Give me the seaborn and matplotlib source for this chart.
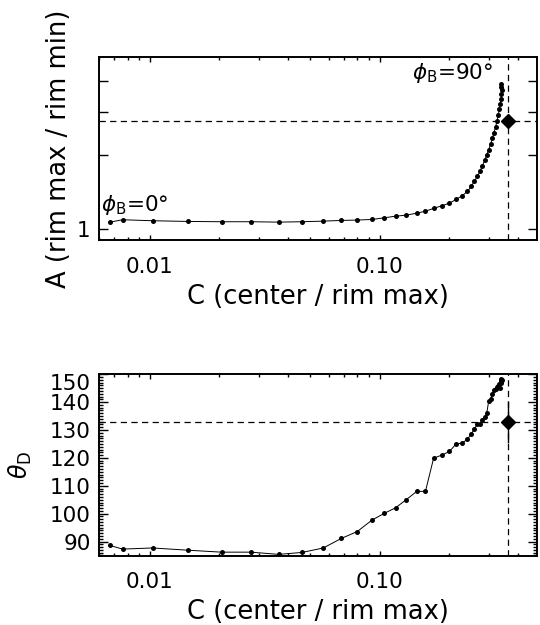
import numpy as np
import pandas as pd
import seaborn as sns
import matplotlib
matplotlib.use("Agg")
from matplotlib import pyplot as plt
from matplotlib import ticker

# dane (model: C, A, theta_D dla phi_B = 0..90)
contrast = [0.0067, 0.0076, 0.01027, 0.01463, 0.0205, 0.02756, 0.0364, 0.0460, 0.0569, 0.0681,
            0.0800, 0.0927, 0.1048, 0.1174, 0.1306, 0.1453, 0.1585, 0.172, 0.1866, 0.2015,
            0.2155, 0.229, 0.2415, 0.2505, 0.259, 0.267, 0.274, 0.2805, 0.287, 0.293,
            0.299, 0.305, 0.310, 0.3153, 0.3206, 0.325, 0.329, 0.3325, 0.336, 0.338,
            0.3395, 0.3405, 0.3395, 0.337]
asym = [1.064, 1.088, 1.078, 1.071, 1.068, 1.068, 1.064, 1.068, 1.074, 1.081,
        1.085, 1.091, 1.108, 1.125, 1.136, 1.157, 1.179, 1.21, 1.24, 1.271,
        1.316, 1.362, 1.418, 1.486, 1.562, 1.636, 1.715, 1.804, 1.897, 2.0,
        2.10, 2.217, 2.336, 2.464, 2.606, 2.752, 2.90, 3.06, 3.225, 3.38,
        3.54, 3.68, 3.79, 3.87]
theta = [88.6, 87.3, 87.7, 86.9, 86.2, 86.2, 85.4, 86.1, 87.7, 91.1,
         93.6, 97.7, 100.1, 102.1, 105.0, 108.0, 108.0, 119.9, 121.0, 122.3,
         125.0, 125.3, 126.7, 128.5, 130.4, 132.3, 132.3, 133.5, 134.8, 136.0,
         140.5, 141.2, 142.8, 144.3, 144.7, 145.5, 145.9, 146.5, 145.0, 147.0,
         147.6, 148.0, 148.2, 147.8]

# obserwacja
obs_c = 0.364
obs_a = 2.75
obs_theta = 133.0
obs_theta_err = 7.5

model = pd.DataFrame({'C': contrast, 'A': asym, 'theta': theta})

sns.set_style('ticks')
plt.rcParams['font.family'] = ['DejaVu Sans']
plt.rcParams['mathtext.fontset'] = 'dejavusans'
plt.rcParams['text.color'] = 'black'
plt.rcParams['axes.labelcolor'] = 'black'

fig = plt.figure(figsize=(5.4, 6.25), dpi=100)
ax1 = fig.add_axes([0.1833, 0.616, 0.8111, 0.2928])
ax2 = fig.add_axes([0.1833, 0.1112, 0.8111, 0.2900])

fs = 15.5
lab_fs = 18.5
dash = (0, (5, 3.5))

for ax in (ax1, ax2):
    ax.set_xscale('log')
    ax.set_xlim(0.006, 0.485)
    ax.xaxis.set_major_locator(ticker.FixedLocator([0.01, 0.1]))
    ax.xaxis.set_major_formatter(ticker.FixedFormatter(['0.01', '0.10']))
    ax.xaxis.set_minor_locator(ticker.LogLocator(base=10, subs=np.arange(2, 10), numticks=20))
    ax.xaxis.set_minor_formatter(ticker.NullFormatter())
    ax.tick_params(which='both', direction='in', top=True, right=True, width=1.0,
                   colors='black', labelcolor='black', labelsize=fs)
    ax.tick_params(axis='x', which='major', length=3.5, pad=12)
    ax.tick_params(axis='x', which='minor', length=2.0)
    ax.tick_params(axis='y', which='major', length=6.3, pad=6)
    ax.tick_params(axis='y', which='minor', length=3.2)
    for s in ax.spines.values():
        s.set_linewidth(1.4)
        s.set_color('black')
    ax.set_xlabel('C (center / rim max)', fontsize=lab_fs)
    ax.xaxis.set_label_coords(0.5, -0.24)

# --- panel 1: A vs C
sns.lineplot(data=model, x='C', y='A', sort=False, estimator=None, ax=ax1,
             color='black', linewidth=0.7, marker='o', markersize=3.6, markeredgewidth=0)
ax1.set_yscale('log')
ax1.set_ylim(0.9, 5.0)
ax1.yaxis.set_major_locator(ticker.FixedLocator([1, 2, 3, 4]))
ax1.yaxis.set_major_formatter(ticker.FixedFormatter(['1', '', '', '']))
ax1.yaxis.set_minor_locator(ticker.NullLocator())
ax1.axhline(obs_a, color='black', linestyle=dash, linewidth=0.9)
ax1.axvline(obs_c, color='black', linestyle=dash, linewidth=0.9)
ax1.plot([obs_c], [obs_a], marker='D', markersize=7, color='black')
ax1.set_ylabel('A (rim max / rim min)', fontsize=lab_fs)
ax1.yaxis.set_label_coords(-0.062, 0.5)
ax1.text(0.0061, 1.18, r'$\phi_{\rm B}$=0°', fontsize=fs, ha='left', va='baseline')
ax1.text(0.311, 4.08, r'$\phi_{\rm B}$=90°', fontsize=fs, ha='right', va='baseline')

# --- panel 2: theta_D vs C
sns.lineplot(data=model, x='C', y='theta', sort=False, estimator=None, ax=ax2,
             color='black', linewidth=0.7, marker='o', markersize=3.6, markeredgewidth=0)
ax2.set_ylim(85, 150)
ax2.yaxis.set_major_locator(ticker.MultipleLocator(10))
ax2.yaxis.set_minor_locator(ticker.MultipleLocator(1))
ax2.axhline(obs_theta, color='black', linestyle=dash, linewidth=0.9)
ax2.axvline(obs_c, color='black', linestyle=dash, linewidth=0.9)
ax2.errorbar([obs_c], [obs_theta], yerr=[obs_theta_err], fmt='D', markersize=7,
             color='black', elinewidth=1.0, capsize=0)
ax2.set_ylabel(r'$\theta_{\rm D}$', fontsize=17)
ax2.yaxis.set_label_coords(-0.148, 0.5)
for lab in ax2.get_yticklabels():
    if lab.get_text() == '150':
        lab.set_va('top')

fig.savefig('out.png', dpi=100)
